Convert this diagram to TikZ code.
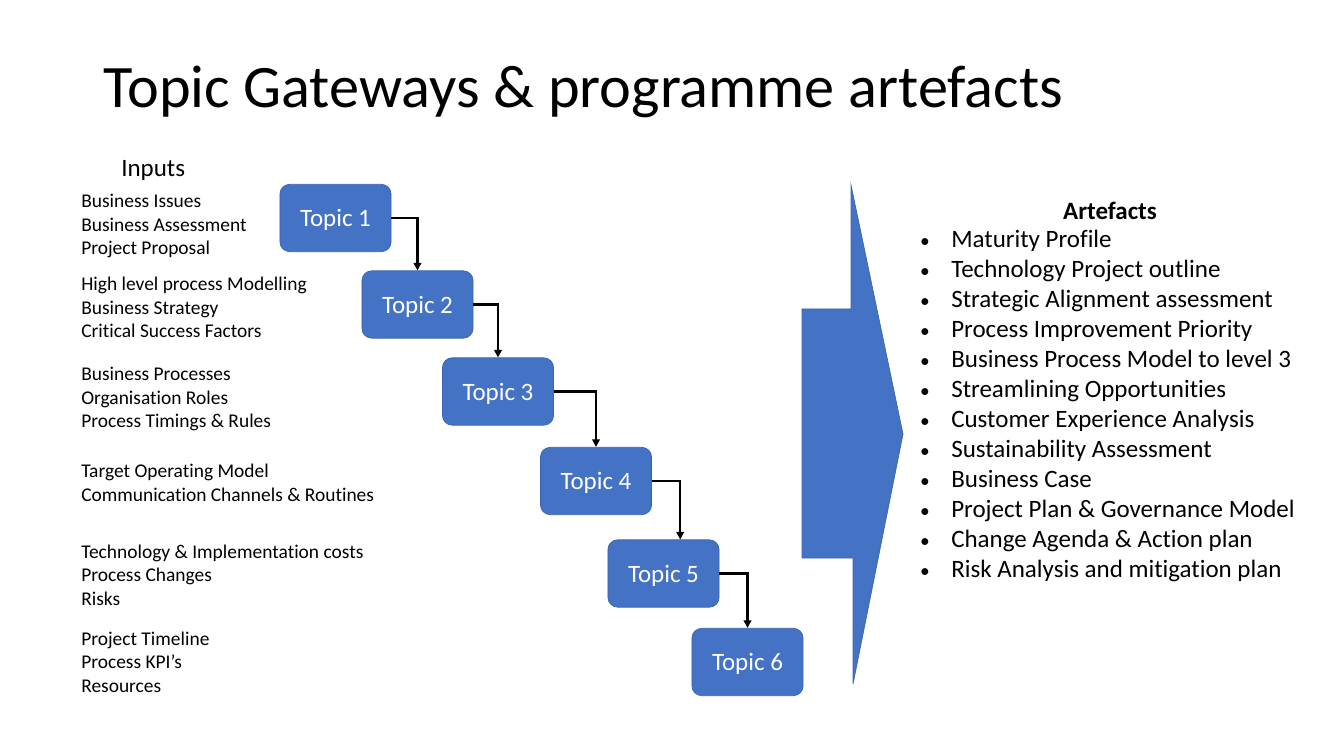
\documentclass[tikz,border=0pt]{standalone}
\usepackage{fontspec}
\setmainfont{Carlito}[Ligatures=CommonOff]
\usetikzlibrary{arrows.meta,positioning}
\definecolor{topicblue}{HTML}{4472C4}
\definecolor{topicedge}{HTML}{3B64AE}

\tikzset{
  topic/.style={draw=topicedge, line width=0.5pt, fill=topicblue, rounded corners=7pt,
    minimum width=80pt, minimum height=48.5pt, text depth=0pt, text=white, font=\fontsize{18}{22}\selectfont},
  flow/.style={-{Triangle[length=5.5pt,width=5.5pt]}, line width=1.8pt, black},
  inputtext/.style={anchor=base west, inner sep=0pt, font=\fontsize{14}{17}\selectfont},
  artetext/.style={anchor=base west, inner sep=0pt, font=\fontsize{18}{22}\selectfont},
}

\begin{document}
\begin{tikzpicture}[x=0.72pt, y=-0.72pt]
  \useasboundingbox (0,0) rectangle (1333,750);

  % title
  \node[anchor=base west, inner sep=0pt, font=\fontsize{43.4}{52}\selectfont] (title) at (103,108)
    {Topic Gateways \& programme artefacts};

  % inputs
  \node[anchor=base west, inner sep=0pt, font=\fontsize{18}{22}\selectfont] (inputs) at (121,177) {Inputs};
  \foreach \y/\txt [count=\i] in {208/Business Issues, 231.5/Business Assessment, 255/Project Proposal,
      291/High level process Modelling, 314.5/Business Strategy, 338/Critical Success Factors,
      381/Business Processes, 404.5/Organisation Roles, 428/Process Timings \& Rules,
      477/Target Operating Model, 501/Communication Channels \& Routines,
      558/Technology \& Implementation costs, 581.5/Process Changes, 605/Risks,
      645/Project Timeline, 668.5/Process KPI’s, 692/Resources}
    \node[inputtext] (inp\i) at (81,\y) {\txt};

  % topics
  \node[topic] (t1) at (335.5,218) {Topic 1};
  \node[topic] (t2) at (417.5,304.5) {Topic 2};
  \node[topic] (t3) at (498,391.5) {Topic 3};
  \node[topic] (t4) at (596,481) {Topic 4};
  \node[topic] (t5) at (663.5,573.5) {Topic 5};
  \node[topic] (t6) at (747.5,662) {Topic 6};

  \draw[flow] (t1.east) -| (t2.north);
  \draw[flow] (t2.east) -| (t3.north);
  \draw[flow] (t3.east) -| (t4.north);
  \draw[flow] (t4.east) -| ([xshift=12pt]t5.north);
  \draw[flow] (t5.east) -| (t6.north);

  % big arrow
  \fill[topicblue, draw=topicedge, line width=0.5pt] (851,185) -- (903,434) -- (853,684) -- (853,558)
    -- (802,558) -- (802,309) -- (851,309) -- cycle;

  % artefacts
  \node[anchor=base, inner sep=0pt, font=\bfseries\fontsize{18}{22}\selectfont] (artefacts) at (1110,220) {Artefacts};
  \foreach \txt [count=\i] in {Maturity Profile, Technology Project outline, Strategic Alignment assessment,
      Process Improvement Priority, Business Process Model to level 3, Streamlining Opportunities,
      Customer Experience Analysis, Sustainability Assessment, Business Case,
      Project Plan \& Governance Model, Change Agenda \& Action plan, Risk Analysis and mitigation plan}
  {
    \node[anchor=base, inner sep=0pt, font=\fontsize{14}{16}\selectfont] (dot\i) at (925,{247.5+30*(\i-1)}) {•};
    \node[artetext] (art\i) at (951,{247.5+30*(\i-1)}) {\txt};
  }
\end{tikzpicture}
\end{document}
